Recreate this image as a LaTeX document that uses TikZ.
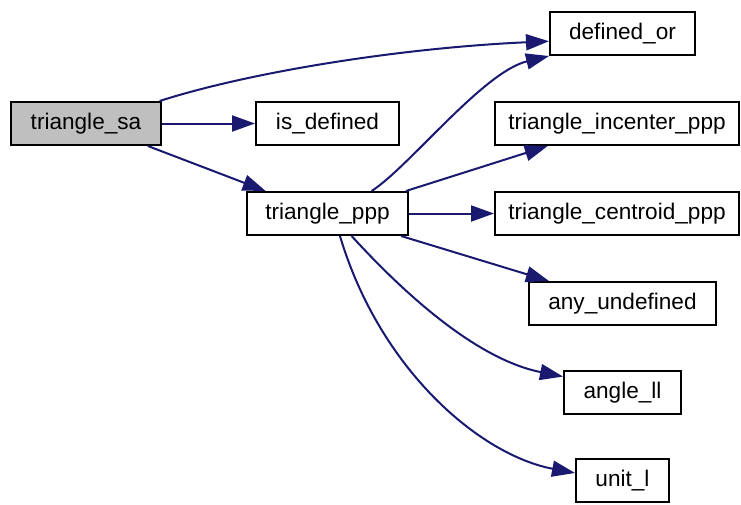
\documentclass[tikz,border=0pt]{standalone}
\usepackage{fontspec}
\setmainfont{Liberation Sans}
\usetikzlibrary{arrows.meta}
\definecolor{edgeblue}{RGB}{25,25,112}
\definecolor{nodegray}{RGB}{191,191,191}

\begin{document}
\begin{tikzpicture}[x=1pt,y=-1pt,
        fn/.style={draw,line width=2pt,fill=white,minimum height=43pt,inner sep=0pt,
            font=\fontsize{22.6}{26}\selectfont},
        call/.style={edgeblue,line width=2pt,-{Triangle[length=23pt,width=16pt]}}]
        \useasboundingbox (0,0) rectangle (741,504);
        \node[fn,fill=nodegray,minimum width=150pt] (sa) at (86,123.5) {triangle\_sa};
        \node[fn,minimum width=143pt] (is_defined) at (327.5,123.5) {is\_defined};
        \node[fn,minimum width=161pt] (ppp) at (327.5,213.5) {triangle\_ppp};
        \node[fn,minimum width=145pt] (defined_or) at (622.5,33.5) {defined\_or};
        \node[fn,minimum width=244pt] (incenter) at (617,123.5) {triangle\_incenter\_ppp};
        \node[fn,minimum width=244pt] (centroid) at (617,213.5) {triangle\_centroid\_ppp};
        \node[fn,minimum width=187pt] (any_undefined) at (622.5,303.5) {any\_undefined};
        \node[fn,minimum width=117pt] (angle_ll) at (622.5,392.5) {angle\_ll};
        \node[fn,minimum width=93pt] (unit_l) at (622.5,480.5) {unit\_l};
        % calls made by triangle_sa
        \draw[call] (sa.17) .. controls (250,72) and (400,48) .. (defined_or.186);
        \draw[call] (sa.east) -- (is_defined.west);
        \draw[call] (sa.-20) -- (ppp.160);
        % calls made by triangle_ppp
        \draw[call] (ppp.27) .. controls (410,166) and (483,72) .. (defined_or.south west);
        \draw[call] (ppp.16) -- (incenter.198);
        \draw[call] (ppp.east) -- (centroid.west);
        \draw[call] (ppp.-17) -- (any_undefined.163);
        \draw[call] (ppp.-43) .. controls (410,300) and (480,360) .. (angle_ll.165);
        \draw[call] (ppp.-61) .. controls (380,370) and (480,455) .. (unit_l.171);
\end{tikzpicture}
\end{document}
